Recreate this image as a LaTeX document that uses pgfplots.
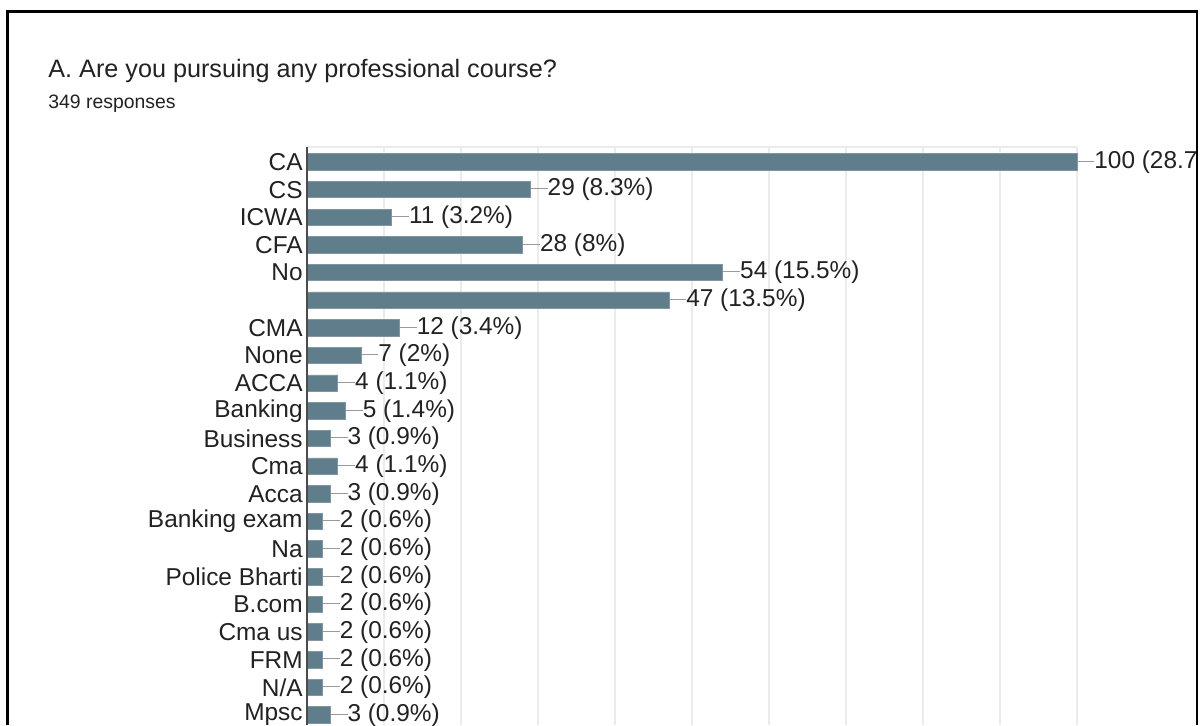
\documentclass[border=0pt]{standalone}
\usepackage{pgfplots}
\pgfplotsset{compat=1.18}
\usepackage{fontspec}
\setmainfont{Liberation Sans}
\definecolor{barc}{HTML}{607D8B}
\definecolor{txt}{HTML}{222222}
\definecolor{gridc}{HTML}{EBEBEB}
\begin{document}
\begin{tikzpicture}
\useasboundingbox (0pt,0pt) rectangle (601.5pt,-362.5pt);
\fill[white] (0pt,0pt) rectangle (601.5pt,-362.5pt);
\node[anchor=base west, inner sep=0pt, text=txt, font=\fontsize{12.6}{15}\selectfont] at (24pt,-38.75pt) {A. Are you pursuing any professional course?};
\node[anchor=base west, inner sep=0pt, text=txt, font=\fontsize{9.7}{12}\selectfont] at (24pt,-54pt) {349 responses};
\begin{axis}[
 at={(153.5pt,-73.5pt)}, anchor=north west,
 scale only axis, width=385pt, height=289pt,
 xmin=0, xmax=100, ymin=-0.54, ymax=20.36, y dir=reverse,
 xbar, bar width=8.25pt,
 xtick={0,10,...,100}, xticklabels={},
 ytick={0,...,20},
 yticklabels={CA,CS,ICWA,CFA,No,{},CMA,None,ACCA,Banking,Business,Cma,Acca,Banking exam,Na,Police Bharti,B.com,Cma us,FRM,N/A,Mpsc},
 major tick length=0pt,
 xmajorgrids, major grid style={draw=gridc, line width=0.6pt},
 axis line style={draw=none},
 tick label style={text=txt, font=\fontsize{12.2}{14}\selectfont},
 yticklabel style={inner sep=0pt, xshift=-2pt},
 clip=false,
 point meta=explicit symbolic,
 nodes near coords={\textcolor{black!40}{\rule[0.27em]{8.5pt}{0.5pt}}\pgfplotspointmeta},
 every node near coord/.append style={anchor=west, inner sep=0pt, text=txt, font=\fontsize{12.2}{14}\selectfont},
]
\addplot[fill=barc, draw=barc!80!white, line width=0.4pt] coordinates {
 (100,0) [100 (28.7]
 (29,1) [29 (8.3\%)]
 (11,2) [11 (3.2\%)]
 (28,3) [28 (8\%)]
 (54,4) [54 (15.5\%)]
 (47,5) [47 (13.5\%)]
 (12,6) [12 (3.4\%)]
 (7,7) [7 (2\%)]
 (4,8) [4 (1.1\%)]
 (5,9) [5 (1.4\%)]
 (3,10) [3 (0.9\%)]
 (4,11) [4 (1.1\%)]
 (3,12) [3 (0.9\%)]
 (2,13) [2 (0.6\%)]
 (2,14) [2 (0.6\%)]
 (2,15) [2 (0.6\%)]
 (2,16) [2 (0.6\%)]
 (2,17) [2 (0.6\%)]
 (2,18) [2 (0.6\%)]
 (2,19) [2 (0.6\%)]
 (3,20) [3 (0.9\%)]
};
\draw[gridc, line width=0.6pt] (axis cs:0,-0.54) -- (axis cs:100,-0.54);
\draw[black!70, line width=0.8pt] (axis cs:0,-0.54) -- (axis cs:0,20.36);
\end{axis}
\draw[black, line width=1.2pt] (3.75pt,-362.5pt) -- (3.75pt,-5.75pt) -- (598.5pt,-5.75pt) -- (598.5pt,-362.5pt);
\end{tikzpicture}
\end{document}
